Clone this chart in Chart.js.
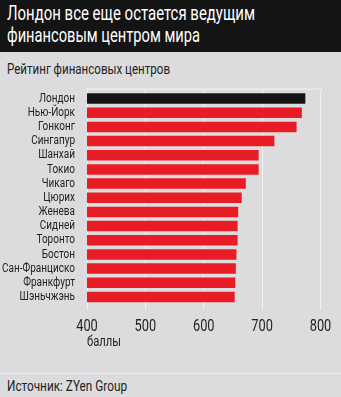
<!DOCTYPE html>
<html>
<head>
<meta charset="utf-8">
<script src="https://cdn.jsdelivr.net/npm/chart.js@4.4.1/dist/chart.umd.min.js"></script>
<style>
  html, body { margin: 0; padding: 0; }
  body {
    width: 341px; height: 397px; position: relative; overflow: hidden;
    background: #dcdcde;
    font-family: Roboto, sans-serif;
    color: #222;
  }
  #head {
    position: absolute; left: 0; top: 0; width: 341px; height: 52px;
    background: #141414;
  }
  .line { position: absolute; left: 7px; white-space: nowrap; transform-origin: 0 0; }
  #h1 { top: 1px; font-size: 20px; color: #fff; }
  #h2 { top: 23px; font-size: 20px; color: #fff; }
  #sub { top: 61px; font-size: 14px; }
  #src { top: 378px; font-size: 14px; }
  #rule { position: absolute; left: 0; top: 373px; width: 341px; height: 1px; background: #efefef; }
  #box { position: absolute; left: 0; top: 80px; width: 341px; height: 280px; }
</style>
</head>
<body>
<div id="head"></div>
<div class="line" id="h1" data-w="248">Лондон все еще остается ведущим</div>
<div class="line" id="h2" data-w="193">финансовым центром мира</div>
<div class="line" id="sub" data-w="163">Рейтинг финансовых центров</div>
<div id="box"><canvas id="rating-chart"></canvas></div>
<div id="rule"></div>
<div class="line" id="src" data-w="120">Источник: ZYen Group</div>

<script>
const cities = ['Лондон', 'Нью-Йорк', 'Гонконг', 'Сингапур', 'Шанхай', 'Токио', 'Чикаго',
  'Цюрих', 'Женева', 'Сидней', 'Торонто', 'Бостон', 'Сан-Франциско', 'Франкфурт', 'Шэньчжэнь'];
const points = [774, 768, 759, 721, 694, 694, 672, 665, 659, 658, 658, 656, 655, 654, 653];
const xTicks = [400, 500, 600, 700, 800];
const unitLabel = 'баллы';

const font = 'Roboto, sans-serif';
const gridColor = '#f2f2f2';

// узкого шрифта нет, поэтому сжимаем заголовки по ширине оригинала
document.querySelectorAll('.line').forEach(el => {
  const k = +el.dataset.w / el.getBoundingClientRect().width;
  el.style.transform = 'scaleX(' + Math.min(1, k) + ')';
});

const ctx = document.getElementById('rating-chart').getContext('2d');

// то же для текста на канвасе: сжатие по горизонтали вокруг точки привязки
const narrow = 0.8;
const fillText = ctx.fillText;
ctx.fillText = function (text, x, y, maxWidth) {
  this.save();
  this.translate(x, y);
  this.scale(narrow, 1);
  if (maxWidth === undefined) fillText.call(this, text, 0, 0);
  else fillText.call(this, text, 0, 0, maxWidth / narrow);
  this.restore();
};

// сетка чуть выходит над первым столбцом и закрыта сверху линией
const topFrame = {
  id: 'topFrame',
  beforeDatasetsDraw(chart) {
    const { ctx, chartArea, scales } = chart;
    const up = 3;
    ctx.save();
    ctx.strokeStyle = gridColor;
    ctx.lineWidth = 1;
    ctx.beginPath();
    xTicks.forEach(v => {
      const px = Math.round(scales.x.getPixelForValue(v)) + 0.5;
      ctx.moveTo(px, chartArea.top - up);
      ctx.lineTo(px, chartArea.top);
    });
    ctx.moveTo(scales.x.left, chartArea.top - up + 0.5);
    ctx.lineTo(scales.x.right + 1, chartArea.top - up + 0.5);
    ctx.stroke();
    ctx.restore();
  }
};

// Лондон выделен чёрным, остальные красным
const barColors = cities.map((c, i) => i === 0 ? '#141414' : '#e81c24');

new Chart(ctx, {
  type: 'bar',
  data: {
    labels: cities,
    datasets: [{
      data: points,
      backgroundColor: barColors,
      barPercentage: 0.74,
      categoryPercentage: 1
    }]
  },
  options: {
    indexAxis: 'y',
    responsive: true,
    maintainAspectRatio: false,
    animation: false,
    layout: { padding: { top: 8, right: 12, bottom: 0, left: 0 } },
    plugins: { legend: { display: false }, tooltip: { enabled: false } },
    scales: {
      x: {
        min: xTicks[0],
        max: xTicks[xTicks.length - 1],
        afterBuildTicks: (scale) => { scale.ticks = xTicks.map(v => ({ value: v })); },
        afterFit: (scale) => { scale.height = 56; },
        grid: { color: gridColor, lineWidth: 1, drawTicks: true, tickLength: 6 },
        border: { display: false },
        ticks: { color: '#222', font: { family: font, size: 16 }, padding: 7 },
        title: {
          display: true, text: unitLabel, align: 'start', color: '#222',
          font: { family: font, size: 14 }, padding: { top: 0, bottom: 9 }
        }
      },
      y: {
        afterFit: (scale) => { scale.width = 87; },
        grid: { display: false },
        border: { display: false },
        ticks: { color: '#222', font: { family: font, size: 12.5 }, padding: 4, autoSkip: false }
      }
    }
  },
  plugins: [topFrame]
});
</script>
</body>
</html>
